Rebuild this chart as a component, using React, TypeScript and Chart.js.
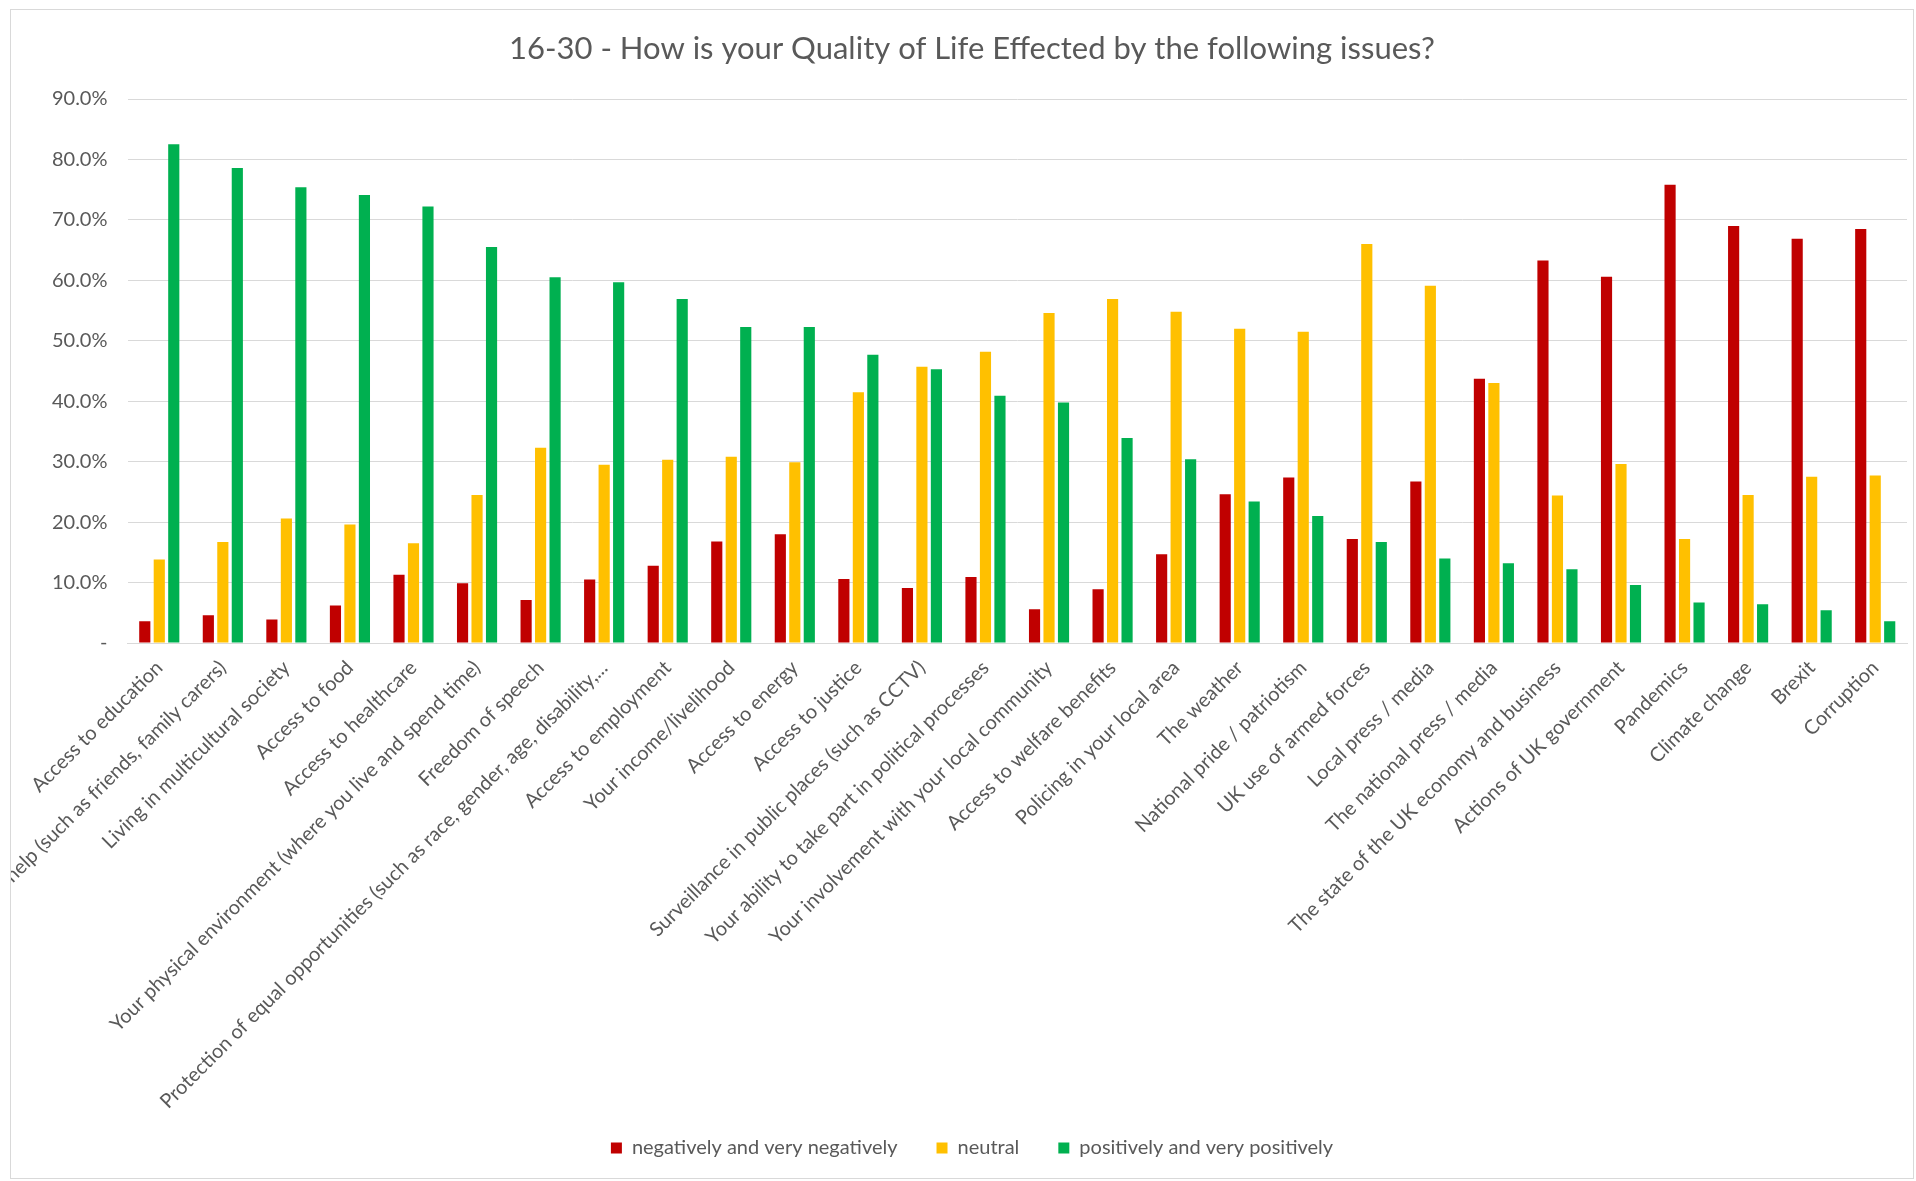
import React, { useEffect, useRef } from "react";
import { Chart, registerables } from "chart.js";

Chart.register(...registerables);

const chartTitle = "16-30 - How is your Quality of Life Effected by the following issues?";

const categories = [
  "Access to education",
  "Access to help (such as friends, family carers)",
  "Living in multicultural society",
  "Access to food",
  "Access to healthcare",
  "Your physical environment (where you live and spend time)",
  "Freedom of speech",
  "Protection of equal opportunities (such as race, gender, age, disability,...",
  "Access to employment",
  "Your income/livelihood",
  "Access to energy",
  "Access to justice",
  "Surveillance in public places (such as CCTV)",
  "Your ability to take part in political processes",
  "Your involvement with your local community",
  "Access to welfare benefits",
  "Policing in your local area",
  "The weather",
  "National pride / patriotism",
  "UK use of armed forces",
  "Local press / media",
  "The national press / media",
  "The state of the UK economy and business",
  "Actions of UK government",
  "Pandemics",
  "Climate change",
  "Brexit",
  "Corruption",
];

const seriesNames = [
  "negatively and very negatively",
  "neutral",
  "positively and very positively",
];

const negativeValues = [
  3.6, 4.6, 3.9, 6.2, 11.3, 9.9, 7.1, 10.5, 12.8, 16.8, 18.0, 10.6, 9.1, 10.9,
  5.6, 8.9, 14.7, 24.6, 27.4, 17.2, 26.7, 43.7, 63.3, 60.6, 75.8, 69.0, 66.9, 68.5,
];

const neutralValues = [
  13.8, 16.7, 20.6, 19.6, 16.5, 24.5, 32.3, 29.5, 30.3, 30.8, 29.9, 41.5, 45.7, 48.2,
  54.6, 56.9, 54.8, 52.0, 51.5, 66.0, 59.1, 43.0, 24.4, 29.6, 17.2, 24.5, 27.5, 27.7,
];

const positiveValues = [
  82.5, 78.6, 75.4, 74.1, 72.2, 65.5, 60.5, 59.7, 56.9, 52.3, 52.3, 47.7, 45.3, 40.9,
  39.8, 33.9, 30.4, 23.4, 21.0, 16.7, 14.0, 13.2, 12.2, 9.6, 6.7, 6.4, 5.4, 3.6,
];

const seriesColors = ["#C00000", "#FFC000", "#00B050"];

const yMin = 0;
const yMax = 90;
const yStep = 10;

const TEXT = "#595959";
const GRID = "#d9d9d9";
const FONT = "Lato";

export default function App() {
  const canvasRef = useRef<HTMLCanvasElement>(null);

  useEffect(() => {
    document.body.style.margin = "0";
    let chart: Chart | null = null;
    let cancelled = false;
    const build = () => {
      if (cancelled || !canvasRef.current) return;
      chart = new Chart(canvasRef.current, {
        type: "bar",
        data: {
          labels: categories,
          datasets: [negativeValues, neutralValues, positiveValues].map((d, i) => ({
            label: seriesNames[i],
            data: d,
            backgroundColor: seriesColors[i],
            borderWidth: 0,
            categoryPercentage: 0.684,
            barPercentage: 0.77,
          })),
        },
        options: {
          animation: false,
          responsive: true,
          maintainAspectRatio: false,
          layout: { padding: { left: 26, right: 6, top: 0, bottom: 10 } },
          plugins: {
            title: {
              display: true,
              text: chartTitle,
              color: TEXT,
              font: { family: FONT, size: 31, weight: "normal" },
              padding: { top: 20.5, bottom: 31.3 },
            },
            legend: {
              position: "bottom",
              labels: {
                boxWidth: 11,
                boxHeight: 11,
                color: TEXT,
                font: { family: FONT, size: 20 },
                padding: 39,
              },
            },
            tooltip: { enabled: false },
          },
          scales: {
            x: {
              grid: { display: false, drawTicks: false },
              border: { display: true, color: GRID, width: 1 },
              ticks: {
                color: TEXT,
                font: { family: FONT, size: 20 },
                minRotation: 45,
                maxRotation: 45,
                autoSkip: false,
                padding: 13,
              },
              afterFit: (s: any) => {
                s.height = 456;
                s.paddingLeft = 0;
                s.paddingRight = 0;
                // let long rotated labels run past the axis box, as in the original
                s._computeLabelArea = () => undefined;
              },
            },
            y: {
              min: yMin,
              max: yMax,
              ticks: {
                stepSize: yStep,
                color: TEXT,
                font: { family: FONT, size: 20 },
                padding: 20,
                callback: (v: any) => (Number(v) === 0 ? "-" : Number(v).toFixed(1) + "%"),
              },
              grid: { color: GRID, drawTicks: false, lineWidth: 1 },
              border: { display: false },
              afterFit: (s: any) => {
                s.width = 90.5;
              },
            },
          },
        },
      });
    };
    if ((document as any).fonts && (document as any).fonts.load) {
      Promise.all([
        (document as any).fonts.load(`20px ${FONT}`),
        (document as any).fonts.load(`31px ${FONT}`),
      ]).then(build, build);
    } else {
      build();
    }
    return () => {
      cancelled = true;
      if (chart) chart.destroy();
    };
  }, []);

  return (
    <div
      style={{
        position: "absolute",
        left: 10,
        top: 9,
        width: 1904,
        height: 1170,
        border: `1px solid ${GRID}`,
        boxSizing: "border-box",
        background: "#fff",
      }}
    >
      <div style={{ position: "relative", width: 1902, height: 1168 }}>
        <canvas ref={canvasRef} />
      </div>
    </div>
  );
}
